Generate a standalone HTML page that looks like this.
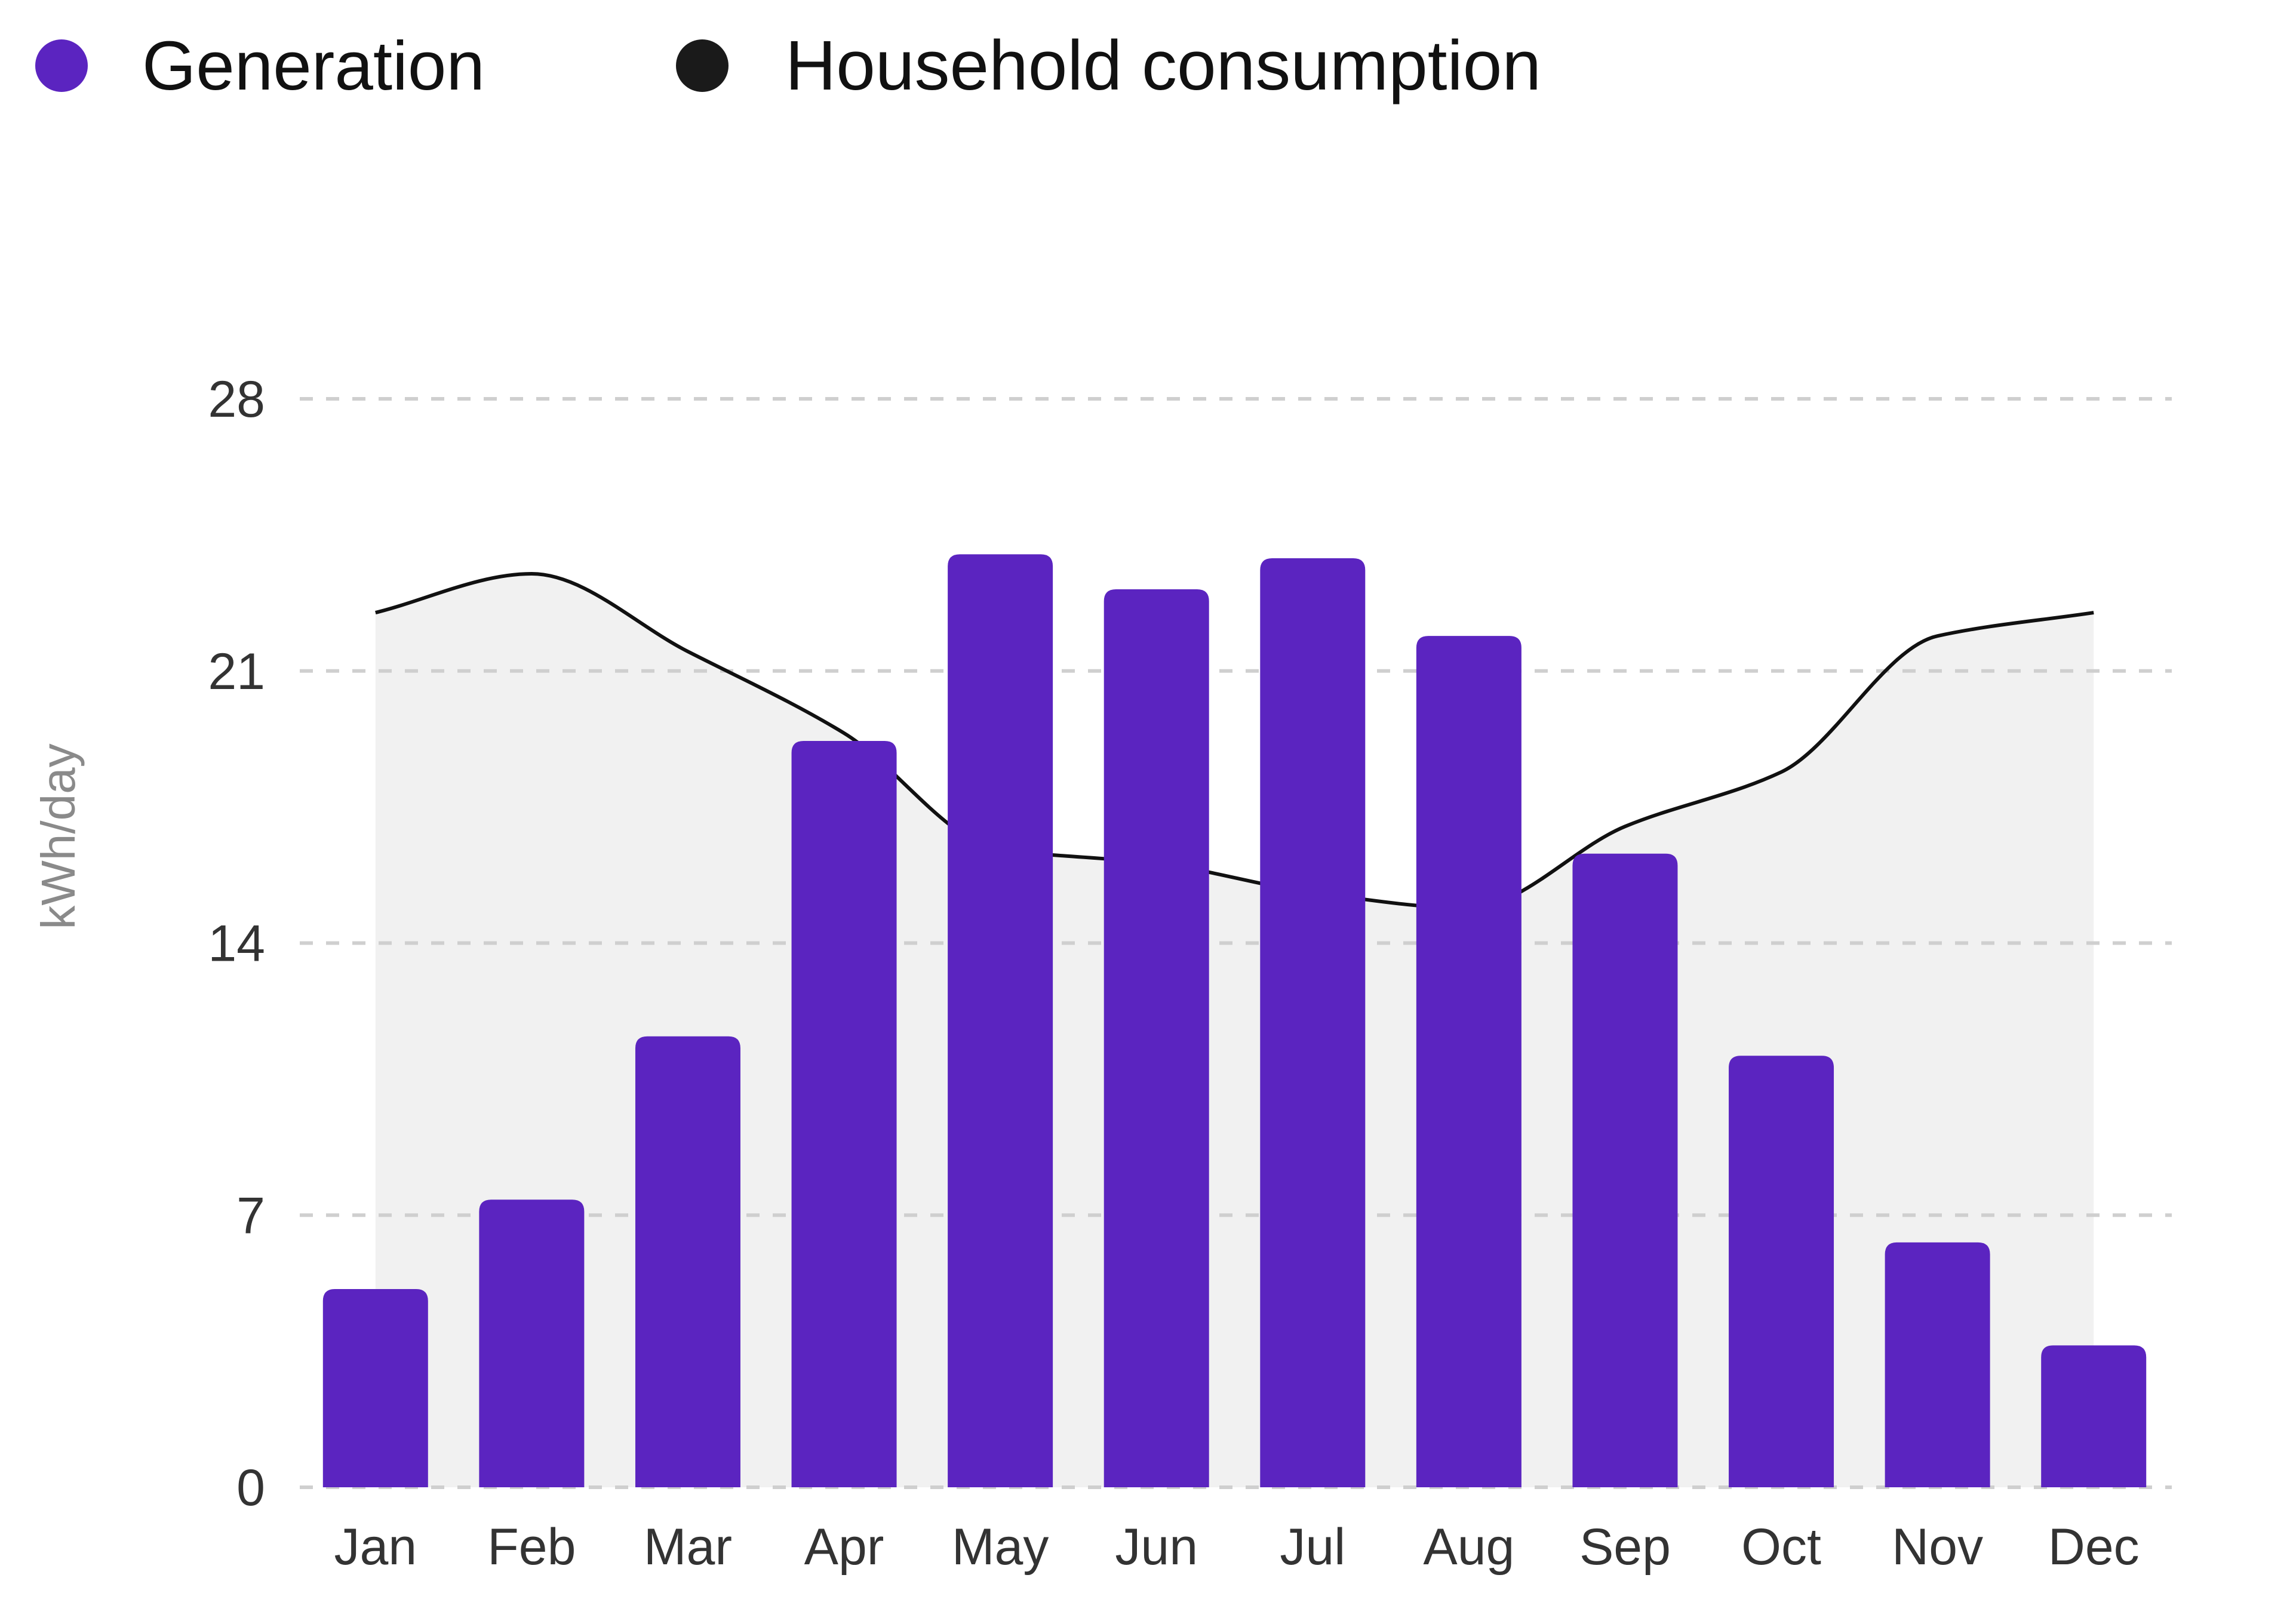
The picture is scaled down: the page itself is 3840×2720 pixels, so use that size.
<!DOCTYPE html>
<html><head><meta charset="utf-8"><style>
html,body{margin:0;padding:0;background:#fff;}
svg{display:block;font-family:"Liberation Sans",sans-serif;}
</style></head><body>
<svg id="chart" width="3840" height="2720" viewBox="0 0 3840 2720">
  <g>
    <g>
      <circle cx="103" cy="110" r="44" fill="#5b24c0"/>
      <text x="238" y="150" font-size="116" fill="#111">Generation</text>
    </g>
    <g>
      <circle cx="1176" cy="110" r="44" fill="#1a1a1a"/>
      <text x="1315" y="150" font-size="118" fill="#111">Household consumption</text>
    </g>
  </g>
  <text transform="translate(125,1401) rotate(-90)" text-anchor="middle" font-size="80" fill="#8a8a8a">kWh/day</text>
  <g id="area"></g>
  <g id="grid"></g>
  <g id="line"></g>
  <g id="bars"></g>
  <g id="ylabels"></g>
  <g id="xlabels"></g>
</svg>
<script>
const categories = ["Jan","Feb","Mar","Apr","May","Jun","Jul","Aug","Sep","Oct","Nov","Dec"];
const generation = [5.1,7.4,11.6,19.2,24.0,23.1,23.9,21.9,16.3,11.1,6.3,3.65];
const consumption = [22.5,23.5,21.5,19.4,16.4,16.05,15.3,14.9,17.0,18.4,21.9,22.5];
const yTicks = [0,7,14,21,28];

const NS = "http://www.w3.org/2000/svg";
const plotLeft = 498, plotRight = 3637, yTop = 668, yBottom = 2491, yMax = 28;
const band = (plotRight - plotLeft) / categories.length;
const barW = 176;
function x(i){ return plotLeft + band * (i + 0.5); }
function y(v){ return yBottom - (v / yMax) * (yBottom - yTop); }
function mk(tag, attrs, parent){
  const e = document.createElementNS(NS, tag);
  for (const k in attrs) e.setAttribute(k, attrs[k]);
  parent.appendChild(e);
  return e;
}

const grid = document.getElementById('grid');
const ylab = document.getElementById('ylabels');
yTicks.forEach(t => {
  const l = mk('line', {x1: 502, x2: 3637, y1: y(t), y2: y(t), stroke: '#cfcfcf', 'stroke-width': 6, 'stroke-dasharray': '22 22'}, grid);
  
  
  const tx = mk('text', {x: 444, y: y(t) + 30, 'text-anchor': 'end', 'font-size': 86, fill: '#333'}, ylab);
  tx.textContent = t;
  
  
});

function monotonePath(xs, ys){
  const n = xs.length, d = [], m = new Array(n);
  for (let i = 0; i < n - 1; i++) d.push((ys[i+1]-ys[i])/(xs[i+1]-xs[i]));
  m[0] = d[0]; m[n-1] = d[n-2];
  for (let i = 1; i < n - 1; i++){
    if (d[i-1]*d[i] <= 0) m[i] = 0;
    else m[i] = 3*(d[i-1]+d[i]) / ((2*d[i]+d[i-1])/d[i-1] + (d[i]+2*d[i-1])/d[i]);
  }
  let p = 'M' + xs[0] + ',' + ys[0];
  for (let i = 0; i < n - 1; i++){
    const h = (xs[i+1]-xs[i])/3;
    p += ' C' + (xs[i]+h) + ',' + (ys[i]+m[i]*h) + ' ' + (xs[i+1]-h) + ',' + (ys[i+1]-m[i+1]*h) + ' ' + xs[i+1] + ',' + ys[i+1];
  }
  return p;
}
const xs = categories.map((c, i) => x(i));
const ys = consumption.map(v => y(v));
const linePath = monotonePath(xs, ys);

const area = mk('path', {d: linePath + ' L' + xs[xs.length-1] + ',' + yBottom + ' L' + xs[0] + ',' + yBottom + ' Z', fill: '#f1f1f1'}, document.getElementById('area'));



const ln = mk('path', {d: linePath, fill: 'none', stroke: '#111', 'stroke-width': 6}, document.getElementById('line'));



const bars = document.getElementById('bars');
const xlab = document.getElementById('xlabels');
const r = 20;
generation.forEach((v, i) => {
  const x0 = x(i) - barW/2, x1 = x(i) + barW/2, top = y(v);
  const d = 'M' + x0 + ',' + yBottom + ' L' + x0 + ',' + (top + r) + ' Q' + x0 + ',' + top + ' ' + (x0 + r) + ',' + top +
            ' L' + (x1 - r) + ',' + top + ' Q' + x1 + ',' + top + ' ' + x1 + ',' + (top + r) + ' L' + x1 + ',' + yBottom + ' Z';
  const b = mk('path', {d: d, fill: '#5b24c0'}, bars);
  
  
  const t = mk('text', {x: x(i), y: 2620, 'text-anchor': 'middle', 'font-size': 86, fill: '#333'}, xlab);
  t.textContent = categories[i];
  
  
});
</script>
</body></html>
